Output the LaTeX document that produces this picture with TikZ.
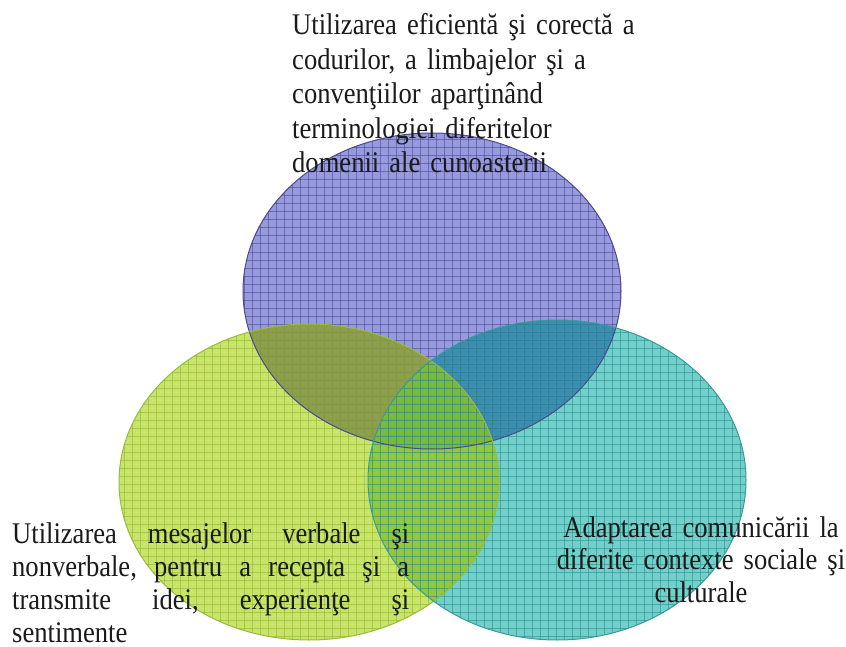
\documentclass[tikz,border=0pt]{standalone}
\usepackage{fontspec}
\setmainfont[FakeStretch=0.886]{Liberation Serif}
\definecolor{pcol}{HTML}{979ADC}
\definecolor{gcol}{HTML}{C8E46A}
\definecolor{tcol}{HTML}{72D0CA}
\definecolor{pgcol}{HTML}{8E9E4A}
\definecolor{ptcol}{HTML}{3A8EB0}
\definecolor{gtcol}{HTML}{92C840}
\definecolor{pgtcol}{HTML}{7CB83A}
\definecolor{pline}{HTML}{4A4A98}
\definecolor{gline}{HTML}{90B830}
\definecolor{tline}{HTML}{2A9090}
\definecolor{pborder}{HTML}{4A4A90}
\definecolor{gborder}{HTML}{98BC3C}
\definecolor{tborder}{HTML}{3A9A9A}
\definecolor{txtcol}{HTML}{1A1A1A}
\def\Pell{(432,291) ellipse [x radius=189pt, y radius=158pt]}
\def\Gell{(309,482) ellipse [x radius=190pt, y radius=158pt]}
\def\Tell{(557,480) ellipse [x radius=189pt, y radius=160pt]}
\newcommand{\hatchgrid}[1]{%
  \foreach \k in {4,12,...,852} {
    \draw[gridline, #1] (\k,0) -- (\k,648);
  }
  \foreach \k in {4,12,...,652} {
    \draw[gridline, #1] (0,\k) -- (848,\k);
  }}
\begin{document}
\begin{tikzpicture}[x=1pt,y=-1pt,
  gridline/.style={line width=1pt, opacity=0.6},
  rim/.style={line width=1pt},
  label/.style={inner sep=0pt, text=txtcol, font=\fontsize{30}{34.5}\selectfont}]
\useasboundingbox (0,0) rectangle (846,647);
% base fills
\fill[pcol] \Pell;
\fill[gcol] \Gell;
\fill[tcol] \Tell;
% pairwise overlaps
\begin{scope}
  \clip \Pell;
  \fill[pgcol] \Gell;
  \fill[ptcol] \Tell;
\end{scope}
\begin{scope}
  \clip \Gell;
  \fill[gtcol] \Tell;
\end{scope}
\begin{scope}
  \clip \Pell;
  \clip \Gell;
  \fill[pgtcol] \Tell;
\end{scope}
% grids
\begin{scope}
  \clip \Pell;
  \hatchgrid{pline}
\end{scope}
\begin{scope}
  \clip \Gell;
  \hatchgrid{gline}
\end{scope}
\begin{scope}
  \clip \Tell;
  \hatchgrid{tline}
\end{scope}
% rims
\draw[rim, pborder] \Pell;
\draw[rim, gborder] \Gell;
\draw[rim, tborder] \Tell;
% texts
\node[label, anchor=base west, text width=380pt, align=left] (top) at (292,35)
  {Utilizarea eficientă şi corectă a\\
   codurilor, a limbajelor şi a\\
   convenţiilor aparţinând\\
   terminologiei diferitelor\\
   domenii ale cunoasterii};
\node[label, anchor=base west, text width=398pt, align=left,
      font=\fontsize{30}{33}\selectfont] (left) at (12,543)
  {\leavevmode\hbox to 397pt{Utilizarea\hfill mesajelor\hfill verbale\hfill şi}\\
   \leavevmode\hbox to 397pt{nonverbale,\hfill pentru\hfill a\hfill recepta\hfill şi\hfill a}\\
   \leavevmode\hbox to 397pt{transmite\hfill idei,\hfill experienţe\hfill şi}\\
   sentimente};
\node[label, anchor=base, text width=300pt, align=center,
      font=\fontsize{30}{32.5}\selectfont] (right) at (701,537)
  {Adaptarea comunicării la\\
   diferite contexte sociale şi\\
   culturale};
\end{tikzpicture}
\end{document}
